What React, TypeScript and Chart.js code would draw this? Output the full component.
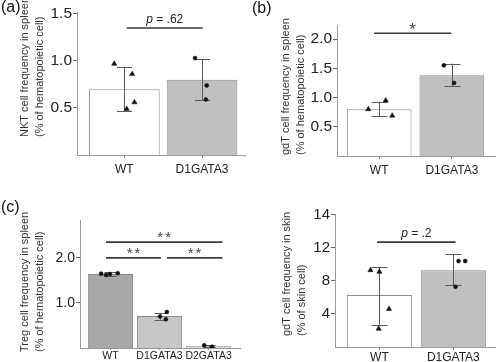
import React, { useEffect, useRef } from "react";
import { Chart, registerables } from "chart.js";

Chart.register(...registerables);

const FONT = "'Liberation Sans', Arial, Helvetica, sans-serif";

// ---------- (a) NKT cells, spleen ----------
const aCategories = ["WT", "D1GATA3"];
const aMeans = [0.7, 0.8];
const aErrLow = [0.47, 0.58];
const aErrHigh = [0.94, 1.02];
const aWTValues = [0.97, 0.86, 0.56, 0.49];
const aWTJitter = [-0.13, 0.1, 0.13, 0.03];
const aD1Values = [1.03, 0.74, 0.59];
const aD1Jitter = [-0.09, 0.06, 0.05];
const aYTicks = [0.5, 1.0, 1.5];
const aYTickLabels = ["0.5", "1.0", "1.5"];
const aTitle = ["NKT cell frequency in spleen", "(% of hematopoietic cell)"];
const aSigFrom = [0.03];
const aSigTo = [1.01];
const aSigY = [1.35];
const aSigText = ["p = .62"];

// ---------- (b) gdT cells, spleen ----------
const bCategories = ["WT", "D1GATA3"];
const bMeans = [0.8, 1.38];
const bErrLow = [0.68, 1.19];
const bErrHigh = [0.93, 1.58];
const bWTValues = [0.8, 0.95, 0.69];
const bWTJitter = [-0.15, 0.09, 0.18];
const bD1Values = [1.55, 1.25];
const bD1Jitter = [-0.11, 0.03];
const bYTicks = [0.5, 1.0, 1.5, 2.0];
const bYTickLabels = ["0.5", "1.0", "1.5", "2.0"];
const bTitle = ["gdT cell frequency in spleen", "(% of hematopoietic cell)"];
const bSigFrom = [-0.07];
const bSigTo = [0.99];
const bSigY = [2.1];
const bSigText = ["*"];

// ---------- (c) Treg cells, spleen ----------
const cCategories = ["WT", "D1GATA3", "D2GATA3"];
const cMeans = [1.64, 0.71, 0.04];
const cErrLow = [1.6, 0.63, 0.02];
const cErrHigh = [1.68, 0.78, 0.06];
const cWTValues = [1.65, 1.62, 1.64, 1.66];
const cWTJitter = [-0.19, -0.09, -0.01, 0.15];
const cD1Values = [0.8, 0.7, 0.64];
const cD1Jitter = [0.15, 0.01, 0.13];
const cD2Values = [0.06, 0.03];
const cD2Jitter = [-0.09, 0.07];
const cYTicks = [1.0, 2.0];
const cYTickLabels = ["1.0", "2.0"];
const cTitle = ["Treg cell frequency in spleen", "(% of hematopoietic cell)"];
const cSigFrom = [-0.09, -0.09, 1.15];
const cSigTo = [2.28, 1.03, 2.28];
const cSigY = [2.35, 2.0, 2.0];
const cSigText = ["**", "**", "**"];

// ---------- (d) gdT cells, skin ----------
const dCategories = ["WT", "D1GATA3"];
const dMeans = [6.3, 9.3];
const dErrLow = [2.7, 7.5];
const dErrHigh = [9.7, 11.2];
const dWTValues = [9.3, 9.1, 4.6, 2.2];
const dWTJitter = [-0.12, 0.0, 0.13, -0.01];
const dD1Values = [10.4, 10.4, 7.3];
const dD1Jitter = [0.07, 0.16, 0.03];
const dYTicks = [4, 8, 12, 16];
const dYTickLabels = ["4", "8", "12", "14"];
const dTitle = ["gdT cell frequency in skin", "(% of skin cell)"];
const dSigFrom = [-0.03];
const dSigTo = [1.03];
const dSigY = [12.7];
const dSigText = ["p = .2"];

type Group = { values: number[]; jitter: number[]; style: "triangle" | "circle" };

type Panel = {
  left: number;
  top: number;
  width: number;
  height: number;
  area: { l: number; r: number; t: number; b: number };
  categories: string[];
  means: number[];
  errLow: number[];
  errHigh: number[];
  groups: Group[];
  barColors: string[];
  barPct: number;
  xMin: number;
  xMax: number;
  yMax: number;
  yTicks: number[];
  yTickLabels: string[];
  yTickFont: number;
  xTickFont: number;
  xTickPad: number;
  xTickLen: number;
  title: string[];
  titleX: number;
  titleBottom: number;
  label?: string;
  labelX?: number;
  labelY?: number;
  sigFrom: number[];
  sigTo: number[];
  sigY: number[];
  sigText: string[];
  sigFont: number;
  sigGap: number;
  sigSpacing: number;
  capHalf: number;
};

const WHITE = "#ffffff";
const GREY = "#c0c0c0";

const panels: Panel[] = [
  {
    left: 0, top: 0, width: 250, height: 181,
    area: { l: 77, r: 248, t: 12, b: 155 },
    categories: aCategories, means: aMeans, errLow: aErrLow, errHigh: aErrHigh,
    groups: [
      { values: aWTValues, jitter: aWTJitter, style: "triangle" },
      { values: aD1Values, jitter: aD1Jitter, style: "circle" },
    ],
    barColors: [WHITE, GREY], barPct: 0.91,
    xMin: -0.61, xMax: 1.56, yMax: 1.52,
    yTicks: aYTicks, yTickLabels: aYTickLabels, yTickFont: 15.5, xTickFont: 12, xTickPad: 4, xTickLen: 3,
    title: aTitle, titleX: 25, titleBottom: 137,
    label: "(a)", labelX: 1, labelY: 8,
    sigFrom: aSigFrom, sigTo: aSigTo, sigY: aSigY, sigText: aSigText, sigFont: 12, sigGap: 5, sigSpacing: 0,
    capHalf: 7.5,
  },
  {
    left: 250, top: 0, width: 250, height: 181,
    area: { l: 87, r: 248, t: 25, b: 156 },
    categories: bCategories, means: bMeans, errLow: bErrLow, errHigh: bErrHigh,
    groups: [
      { values: bWTValues, jitter: bWTJitter, style: "triangle" },
      { values: bD1Values, jitter: bD1Jitter, style: "circle" },
    ],
    barColors: [WHITE, GREY], barPct: 0.89,
    xMin: -0.58, xMax: 1.6, yMax: 2.24,
    yTicks: bYTicks, yTickLabels: bYTickLabels, yTickFont: 15.5, xTickFont: 12, xTickPad: 4, xTickLen: 3,
    title: bTitle, titleX: 36, titleBottom: 155,
    label: "(b)", labelX: 2, labelY: 9,
    sigFrom: bSigFrom, sigTo: bSigTo, sigY: bSigY, sigText: bSigText, sigFont: 17, sigGap: -2, sigSpacing: 0,
    capHalf: 8,
  },
  {
    left: 0, top: 181, width: 250, height: 181,
    area: { l: 80, r: 240, t: 39, b: 167 },
    categories: cCategories, means: cMeans, errLow: cErrLow, errHigh: cErrHigh,
    groups: [
      { values: cWTValues, jitter: cWTJitter, style: "circle" },
      { values: cD1Values, jitter: cD1Jitter, style: "circle" },
      { values: cD2Values, jitter: cD2Jitter, style: "circle" },
    ],
    barColors: ["#a8a8a8", "#c6c6c6", "#d8d8d8"], barPct: 0.92,
    xMin: -0.62, xMax: 2.64, yMax: 2.84,
    yTicks: cYTicks, yTickLabels: cYTickLabels, yTickFont: 14, xTickFont: 10.5, xTickPad: 0, xTickLen: 2,
    title: cTitle, titleX: 25, titleBottom: 171,
    label: "(c)", labelX: 1, labelY: 27,
    sigFrom: cSigFrom, sigTo: cSigTo, sigY: cSigY, sigText: cSigText, sigFont: 15, sigGap: 0, sigSpacing: 2,
    capHalf: 6,
  },
  {
    left: 250, top: 181, width: 250, height: 181,
    area: { l: 85, r: 248, t: 33, b: 166 },
    categories: dCategories, means: dMeans, errLow: dErrLow, errHigh: dErrHigh,
    groups: [
      { values: dWTValues, jitter: dWTJitter, style: "triangle" },
      { values: dD1Values, jitter: dD1Jitter, style: "circle" },
    ],
    barColors: [WHITE, GREY], barPct: 0.88,
    xMin: -0.6, xMax: 1.57, yMax: 16.1,
    yTicks: dYTicks, yTickLabels: dYTickLabels, yTickFont: 15, xTickFont: 12, xTickPad: 0, xTickLen: 3,
    title: dTitle, titleX: 37, titleBottom: 155,
    sigFrom: dSigFrom, sigTo: dSigTo, sigY: dSigY, sigText: dSigText, sigFont: 12, sigGap: 5, sigSpacing: 0,
    capHalf: 8,
  },
];

function makeExtras(p: Panel) {
  return {
    id: "panelExtras",
    afterDatasetDraw(chart: any, args: any) {
      if (args.meta.type !== "bar") return;
      const { ctx, scales } = chart;
      const xs = scales.x;
      const ys = scales.y;
      ctx.save();
      ctx.strokeStyle = "#5a5a5a";
      ctx.lineWidth = 1;
      p.means.forEach((_, i) => {
        const x = Math.round(xs.getPixelForValue(i)) + 0.5;
        const lo = ys.getPixelForValue(p.errLow[i]);
        const hi = ys.getPixelForValue(p.errHigh[i]);
        ctx.beginPath();
        ctx.moveTo(x, lo);
        ctx.lineTo(x, hi);
        ctx.moveTo(x - p.capHalf, Math.round(hi) + 0.5);
        ctx.lineTo(x + p.capHalf, Math.round(hi) + 0.5);
        ctx.moveTo(x - p.capHalf, Math.round(lo) + 0.5);
        ctx.lineTo(x + p.capHalf, Math.round(lo) + 0.5);
        ctx.stroke();
      });
      ctx.restore();
    },
    afterDraw(chart: any) {
      const { ctx, scales } = chart;
      const xs = scales.x;
      const ys = scales.y;
      ctx.save();
      // significance brackets
      p.sigY.forEach((yv, i) => {
        const x1 = xs.getPixelForValue(p.sigFrom[i]);
        const x2 = xs.getPixelForValue(p.sigTo[i]);
        const y = ys.getPixelForValue(yv);
        ctx.strokeStyle = "#3a3a3a";
        ctx.lineWidth = 1.6;
        ctx.beginPath();
        ctx.moveTo(x1, y);
        ctx.lineTo(x2, y);
        ctx.stroke();
        const cx = (x1 + x2) / 2;
        const ty = y - p.sigGap;
        const text = p.sigText[i];
        ctx.fillStyle = "#222";
        ctx.textBaseline = "alphabetic";
        if (text.startsWith("p ")) {
          const rest = text.slice(1);
          ctx.font = `italic ${p.sigFont}px ${FONT}`;
          const w1 = ctx.measureText("p").width;
          ctx.font = `${p.sigFont}px ${FONT}`;
          const w2 = ctx.measureText(rest).width;
          const sx = cx - (w1 + w2) / 2;
          ctx.textAlign = "left";
          ctx.font = `italic ${p.sigFont}px ${FONT}`;
          ctx.fillText("p", sx, ty);
          ctx.font = `${p.sigFont}px ${FONT}`;
          ctx.fillText(rest, sx + w1, ty);
        } else {
          ctx.font = `${p.sigFont}px ${FONT}`;
          ctx.fillStyle = "#444";
          (ctx as any).letterSpacing = `${p.sigSpacing}px`;
          const w = ctx.measureText(text).width - p.sigSpacing;
          ctx.textAlign = "left";
          ctx.fillText(text, cx - w / 2, ty);
          (ctx as any).letterSpacing = "0px";
        }
      });
      // y-axis title (two rotated lines)
      ctx.font = `11px ${FONT}`;
      ctx.fillStyle = "#333";
      ctx.textAlign = "left";
      ctx.textBaseline = "middle";
      p.title.forEach((line, k) => {
        ctx.save();
        ctx.translate(p.titleX + k * 15, p.titleBottom);
        ctx.rotate(-Math.PI / 2);
        ctx.fillText(line, 0, 0);
        ctx.restore();
      });
      // panel label
      if (p.label) {
        ctx.font = `16px ${FONT}`;
        ctx.fillStyle = "#111";
        ctx.textAlign = "left";
        ctx.textBaseline = "middle";
        ctx.fillText(p.label, p.labelX, p.labelY);
      }
      ctx.restore();
    },
  };
}

function PanelChart({ p }: { p: Panel }) {
  const ref = useRef<HTMLCanvasElement | null>(null);
  useEffect(() => {
    if (!ref.current) return;
    const chart = new Chart(ref.current, {
      type: "bar",
      data: {
        datasets: [
          {
            type: "bar",
            data: p.means.map((m, i) => ({ x: i, y: m })),
            backgroundColor: p.barColors,
            borderColor: "#8c8c8c",
            borderWidth: 1,
            barPercentage: p.barPct,
            categoryPercentage: 1,
            order: 2,
          } as any,
          ...p.groups.map(
            (g, gi) =>
              ({
                type: "scatter",
                data: g.values.map((v, k) => ({ x: gi + g.jitter[k], y: v })),
                pointStyle: g.style,
                pointRadius: g.style === "triangle" ? 3 : 2,
                pointBackgroundColor: "#111",
                pointBorderColor: "#111",
                pointBorderWidth: 0.5,
                order: 1,
              } as any)
          ),
        ],
      },
      options: {
        responsive: false,
        maintainAspectRatio: false,
        animation: false,
        layout: { padding: { left: 0, top: p.area.t, right: p.width - p.area.r, bottom: 0 } },
        plugins: { legend: { display: false }, tooltip: { enabled: false } },
        scales: {
          x: {
            type: "linear",
            offset: false,
            min: p.xMin,
            max: p.xMax,
            bounds: "data",
            afterBuildTicks: (s: any) => {
              s.ticks = p.categories.map((_, i) => ({ value: i }));
            },
            afterFit: (s: any) => {
              s.height = p.height - p.area.b;
            },
            ticks: {
              callback: (_v: any, i: number) => p.categories[i],
              autoSkip: false,
              maxRotation: 0,
              minRotation: 0,
              padding: p.xTickPad,
              color: "#222",
              font: { family: FONT, size: p.xTickFont },
            },
            grid: { offset: false, drawOnChartArea: false, drawTicks: true, tickLength: p.xTickLen, color: "#8c8c8c" },
            border: { display: true, color: "#9a9a9a", width: 1 },
          },
          y: {
            type: "linear",
            min: 0,
            max: p.yMax,
            afterBuildTicks: (s: any) => {
              s.ticks = p.yTicks.map((v) => ({ value: v }));
            },
            afterFit: (s: any) => {
              s.width = p.area.l;
            },
            ticks: {
              callback: (_v: any, i: number) => p.yTickLabels[i],
              autoSkip: false,
              padding: 1,
              color: "#222",
              font: { family: FONT, size: p.yTickFont },
            },
            grid: { drawOnChartArea: false, drawTicks: true, tickLength: 4, color: "#666" },
            border: { display: true, color: "#9a9a9a", width: 1 },
          },
        },
      } as any,
      plugins: [makeExtras(p) as any],
    });
    return () => chart.destroy();
  }, [p]);
  return (
    <canvas
      ref={ref}
      width={p.width}
      height={p.height}
      style={{ position: "absolute", left: p.left, top: p.top, width: p.width, height: p.height }}
    />
  );
}

export default function App() {
  return (
    <div style={{ position: "fixed", left: 0, top: 0, width: 500, height: 362, background: "#ffffff", overflow: "hidden" }}>
      {panels.map((p, i) => (
        <PanelChart key={i} p={p} />
      ))}
    </div>
  );
}
